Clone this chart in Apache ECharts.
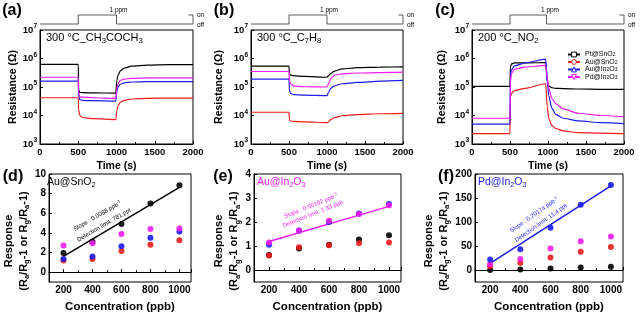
<!DOCTYPE html>
<html>
<head>
<meta charset="utf-8">
<script src="https://cdn.jsdelivr.net/npm/echarts@6/dist/echarts.min.js"></script>
<style>
  html, body { margin: 0; padding: 0; background: #fff; }
  #main { width: 640px; height: 314px; }
</style>
</head>
<body>
<div id="main"></div>
<script>
// ---- data ----
var sampleNames = ['Pt@SnO2', 'Au@SnO2', 'Au@In2O3', 'Pd@In2O3'];

// (a) 300 C acetone, resistance in ohm
var timeA = [0, 500, 505, 520, 560, 700, 990, 1005, 1020, 1050, 1100, 1200, 1400, 1700, 2000];
var ptSnO2_a = [6.2e5, 6.2e5, 8e4, 6.5e4, 6.3e4, 6.2e4, 6.1e4, 1.7e5, 2.6e5, 3.7e5, 4.6e5, 5.4e5, 5.9e5, 6.1e5, 6.1e5];
var auSnO2_a = [4.2e4, 4.2e4, 1.6e4, 1.0e4, 8.5e3, 7.8e3, 7.2e3, 1.5e4, 2.2e4, 2.9e4, 3.4e4, 3.8e4, 4.0e4, 4.1e4, 4.1e4];
var auIn2O3_a = [1.6e5, 1.6e5, 5e4, 3.6e4, 3.4e4, 3.3e4, 3.2e4, 7e4, 1.0e5, 1.25e5, 1.4e5, 1.5e5, 1.55e5, 1.55e5, 1.55e5];
var pdIn2O3_a = [2.2e5, 2.2e5, 6e4, 4.6e4, 4.4e4, 4.2e4, 4.0e4, 9e4, 1.3e5, 1.7e5, 1.9e5, 2.0e5, 2.1e5, 2.1e5, 2.1e5];

// (b) 300 C toluene
var timeB = [0, 500, 505, 520, 560, 700, 1000, 1020, 1050, 1100, 1200, 1400, 1700, 2000];
var ptSnO2_b = [5.4e5, 5.4e5, 2.8e5, 2.6e5, 2.5e5, 2.35e5, 2.2e5, 2.5e5, 3.0e5, 3.6e5, 4.3e5, 4.8e5, 5.0e5, 5.1e5];
var auSnO2_b = [1.3e4, 1.3e4, 7e3, 6.4e3, 6.2e3, 6.0e3, 5.6e3, 6.0e3, 7.3e3, 8.5e3, 9.8e3, 1.08e4, 1.15e4, 1.18e4];
var auIn2O3_b = [1.9e5, 1.9e5, 8e4, 6e4, 5.4e4, 5.2e4, 5.0e4, 6.5e4, 9e4, 1.1e5, 1.3e5, 1.45e5, 1.6e5, 1.7e5];
var pdIn2O3_b = [3.5e5, 3.5e5, 1.6e5, 1.3e5, 1.1e5, 1.02e5, 1.0e5, 1.3e5, 2.0e5, 2.6e5, 2.9e5, 3.1e5, 3.2e5, 3.3e5];

// (c) 200 C NO2
var timeC = [0, 500, 505, 520, 560, 700, 970, 990, 1010, 1050, 1100, 1200, 1400, 1700, 2000];
var ptSnO2_c = [1.05e5, 1.05e5, 5e5, 6.5e5, 7e5, 7e5, 7.2e5, 1.6e5, 1.1e5, 9.5e4, 9e4, 8.8e4, 8.5e4, 8.3e4, 8.2e4];
var auSnO2_c = [2.3e3, 2.3e3, 4.5e4, 6e4, 7.5e4, 9e4, 1.3e5, 2e4, 8e3, 4.5e3, 3.5e3, 2.9e3, 2.5e3, 2.4e3, 2.3e3];
var auIn2O3_c = [5e3, 5e3, 2.5e5, 4e5, 5.5e5, 7e5, 9.5e5, 1.5e5, 5e4, 1.8e4, 1.1e4, 8e3, 6.5e3, 5.6e3, 5.2e3];
var pdIn2O3_c = [8e3, 8e3, 1.5e5, 3e5, 4.2e5, 5e5, 5.7e5, 2e5, 9e4, 4e4, 2.6e4, 1.7e4, 1.2e4, 1e4, 9e3];

// gas pulse (on = 1, off = 0) with the on/off bracket at the right end
var pulseTimeAB = [0, 500, 500, 1000, 1000, 2000, 2000, 1940];
var pulseTimeC = [0, 500, 500, 980, 980, 2000, 2000, 1940];
var pulseLevel = [0, 0, 1, 1, 0, 0, 1, 1];

// (d)(e)(f) response vs concentration
var conc = [200, 400, 600, 800, 1000];
var fitConc = [200, 1000];
var black_d = [1.95, 3.1, 4.9, 7.0, 8.85];
var red_d = [1.2, 1.35, 2.15, 2.8, 3.25];
var blue_d = [1.35, 1.6, 2.65, 3.5, 4.15];
var magenta_d = [2.72, 2.95, 3.9, 4.4, 4.45];
var fit_d = [1.6, 8.64];

var black_e = [0.62, 0.9, 1.05, 1.27, 1.45];
var red_e = [0.6, 0.95, 1.03, 1.11, 1.15];
var blue_e = [1.05, 1.65, 2.0, 2.35, 2.75];
var magenta_e = [1.15, 1.65, 2.05, 2.33, 2.7];
var fit_e = [1.19, 2.65];

var black_f = [0, 1, 3, 5, 7];
var red_f = [8, 15, 26, 38, 48];
var magenta_f = [12, 23, 45, 60, 70];
var blue_f = [22, 43, 88, 136, 177];
var fit_f = [14, 175.5];

// ---- styling ----
var FONT = "'Liberation Sans', Arial, sans-serif";
var BLACK = '#000000', RED = '#f01c1c', BLUE = '#1c1cf0', MAGENTA = '#f01cf0';

function pairs(xs, ys) {
  return xs.map(function (x, i) { return [x, ys[i]]; });
}
function subDigits(s) {
  return s.replace(/(\d)/g, '{s|$1}');
}
function plain(v) { return String(v); }

var chart = echarts.init(document.getElementById('main'));

var grids = [
  { left: 40, top: 30, width: 153, height: 114 },   // a
  { left: 251, top: 30, width: 152, height: 114 },  // b
  { left: 472, top: 30, width: 152, height: 114 },  // c
  { left: 40, top: 15, width: 153, height: 9 },     // pulses
  { left: 251, top: 15, width: 152, height: 9 },
  { left: 472, top: 15, width: 152, height: 9 },
  { left: 44, top: 174, width: 147, height: 109 },  // d
  { left: 254, top: 174, width: 147, height: 109 }, // e
  { left: 475, top: 174, width: 148, height: 109 }  // f
];
grids.forEach(function (g, i) {
  g.show = !(i >= 3 && i <= 5);
  g.borderColor = '#000';
  g.borderWidth = 1;
  g.containLabel = false;
});

var axisCommon = {
  axisLine: { lineStyle: { color: '#000', width: 1 } },
  axisTick: { inside: true, length: 3, lineStyle: { color: '#000' } },
  splitLine: { show: false }
};

function topX(i) {
  return Object.assign({}, axisCommon, {
    gridIndex: i, type: 'value', min: 0, max: 2000, interval: 500,
    name: 'Time (s)', nameLocation: 'middle', nameGap: 17,
    nameTextStyle: { fontFamily: FONT, fontWeight: 'bold', fontSize: 10.5, color: '#000' },
    minorTick: { show: true, splitNumber: 2, length: 2, lineStyle: { color: '#000' } },
    axisLabel: { fontFamily: FONT, fontSize: 9.5, fontWeight: 'bold', color: '#000', margin: 3, formatter: plain }
  });
}
function topY(i, gap) {
  return Object.assign({}, axisCommon, {
    gridIndex: i, type: 'log', logBase: 10, min: 1e3, max: 1e7,
    name: 'Resistance (Ω)', nameLocation: 'middle', nameGap: gap,
    nameTextStyle: { fontFamily: FONT, fontWeight: 'bold', fontSize: 10.5, color: '#000' },
    axisLabel: {
      fontFamily: FONT, fontSize: 9.5, fontWeight: 'bold', color: '#000', margin: 3, lineHeight: 14,
      formatter: function (v) { return '10{p|' + Math.round(Math.log10(v)) + '}'; },
      rich: { p: { fontFamily: FONT, fontSize: 6.5, fontWeight: 'bold', lineHeight: 7, verticalAlign: 'top', color: '#000' } }
    }
  });
}
function pulseX(i) { return { gridIndex: i, type: 'value', min: 0, max: 2000, show: false }; }
function pulseY(i) { return { gridIndex: i, type: 'value', min: 0, max: 1, show: false }; }

function botX(i) {
  return Object.assign({}, axisCommon, {
    gridIndex: i, type: 'value', min: 100, max: 1080, splitNumber: 5,
    name: 'Concentration (ppb)', nameLocation: 'middle', nameGap: 19,
    nameTextStyle: { fontFamily: FONT, fontWeight: 'bold', fontSize: 11.5, color: '#000' },
    minorTick: { show: true, splitNumber: 2, length: 2, lineStyle: { color: '#000' } },
    axisLabel: { fontFamily: FONT, fontSize: 10, fontWeight: 'bold', color: '#000', margin: 3,
      showMinLabel: false, showMaxLabel: false, formatter: plain }
  });
}
function botY(i, min, max) {
  return Object.assign({}, axisCommon, {
    gridIndex: i, type: 'value', min: min, max: max, splitNumber: 5,
    name: 'Response\n(R{s|a}/R{s|g}-1 or R{s|g}/R{s|a}-1)', nameLocation: 'middle', nameGap: 12,
    nameTextStyle: {
      fontFamily: FONT, fontWeight: 'bold', fontSize: 11, color: '#000', lineHeight: 15,
      padding: [0, 26, 0, 0], // push the two-line title a bit downward, as in the figure
      rich: { s: { fontFamily: FONT, fontWeight: 'bold', fontSize: 7.5, lineHeight: 8, verticalAlign: 'bottom', color: '#000' } }
    },
    axisLabel: { fontFamily: FONT, fontSize: 10, fontWeight: 'bold', color: '#000', margin: 3, showMinLabel: false }
  });
}

var series = [];
var symbols = ['rect', 'circle', 'triangle', 'triangle'];
var rotations = [0, 0, 0, 180];
var colors = [BLACK, RED, BLUE, MAGENTA];
var topData = [
  [timeA, [ptSnO2_a, auSnO2_a, auIn2O3_a, pdIn2O3_a]],
  [timeB, [ptSnO2_b, auSnO2_b, auIn2O3_b, pdIn2O3_b]],
  [timeC, [ptSnO2_c, auSnO2_c, auIn2O3_c, pdIn2O3_c]]
];
topData.forEach(function (panel, p) {
  panel[1].forEach(function (vals, k) {
    series.push({
      type: 'line', name: sampleNames[k], xAxisIndex: p, yAxisIndex: p,
      data: pairs(panel[0], vals), showSymbol: false,
      symbol: symbols[k], symbolRotate: rotations[k], symbolSize: 5,
      smooth: 0.25, smoothMonotone: 'x',
      itemStyle: { color: colors[k], borderColor: colors[k], borderWidth: 1 },
      lineStyle: { color: colors[k], width: 1.2 },
      animation: false
    });
  });
});

[pulseTimeAB, pulseTimeAB, pulseTimeC].forEach(function (t, p) {
  series.push({
    type: 'line', xAxisIndex: 3 + p, yAxisIndex: 3 + p, data: pairs(t, pulseLevel),
    showSymbol: false, clip: false, lineStyle: { color: '#333', width: 0.8 }, animation: false,
    silent: true
  });
});

var botData = [
  [[black_d, red_d, blue_d, magenta_d], fit_d, BLACK],
  [[black_e, red_e, blue_e, magenta_e], fit_e, MAGENTA],
  [[black_f, red_f, magenta_f, blue_f], fit_f, BLUE]
];
var botColors = [
  [BLACK, RED, BLUE, MAGENTA],
  [BLACK, RED, BLUE, MAGENTA],
  [BLACK, RED, MAGENTA, BLUE]
];
botData.forEach(function (panel, p) {
  var ax = 6 + p;
  series.push({
    type: 'line', xAxisIndex: ax, yAxisIndex: ax, data: pairs(fitConc, panel[1]),
    showSymbol: false, lineStyle: { color: panel[2], width: 1.5 }, animation: false, z: 2
  });
  panel[0].forEach(function (vals, k) {
    series.push({
      type: 'scatter', name: 'pt' + p + k, xAxisIndex: ax, yAxisIndex: ax,
      data: pairs(conc, vals), symbolSize: 6,
      itemStyle: { color: botColors[p][k], opacity: 0.9 }, animation: false, z: 3
    });
  });
});

function label(x, y, text, size, opts) {
  opts = opts || {};
  var subSize = Math.round(size * 0.7 * 10) / 10;
  return {
    type: 'text', x: x, y: y, rotation: (opts.rot || 0) * Math.PI / 180, silent: true,
    style: {
      text: text, fill: opts.color || '#000', fontFamily: FONT, fontSize: size,
      fontWeight: opts.bold ? 'bold' : 'normal', lineHeight: size * 1.3,
      align: opts.align || 'left', verticalAlign: 'middle',
      rich: {
        s: { fill: opts.color || '#000', fontFamily: FONT, fontSize: subSize, lineHeight: subSize,
             verticalAlign: 'bottom', fontWeight: opts.bold ? 'bold' : 'normal' },
        p: { fill: opts.color || '#000', fontFamily: FONT, fontSize: subSize, lineHeight: subSize,
             verticalAlign: 'top', fontWeight: opts.bold ? 'bold' : 'normal' }
      }
    }
  };
}

var graphics = [
  label(12, 11, '(a)', 16, { bold: true, align: 'center' }),
  label(224, 11, '(b)', 16, { bold: true, align: 'center' }),
  label(445, 11, '(c)', 16, { bold: true, align: 'center' }),
  label(13, 177, '(d)', 16, { bold: true, align: 'center' }),
  label(223, 177, '(e)', 16, { bold: true, align: 'center' }),
  label(446, 177, '(f)', 16, { bold: true, align: 'center' }),
  label(46, 38, '300 °C_CH{s|3}COCH{s|3}', 11),
  label(257, 38, '300 °C_C{s|7}H{s|8}', 11),
  label(478, 38, '200 °C_NO{s|2}', 11),
  label(47, 182, 'Au@SnO{s|2}', 10.5),
  label(257, 182, 'Au@In{s|2}O{s|3}', 10.5, { color: MAGENTA }),
  label(478, 182, 'Pd@In{s|2}O{s|3}', 10.5, { color: BLUE }),
  label(97.5, 216, 'Slope : 0.0088 ppb{p|-1}', 6, { align: 'center', rot: 30 }),
  label(104, 225, 'Detection limit: 781 ppt', 6, { align: 'center', rot: 30 }),
  label(311, 206, 'Slope : 0.00182 ppb{p|-1}', 6, { align: 'center', rot: 22, color: MAGENTA }),
  label(313, 214, 'Detection limit: 1.33 ppb', 6, { align: 'center', rot: 22, color: MAGENTA }),
  label(534, 215, 'Slope : 0.20174 ppb{p|-1}', 6, { align: 'center', rot: 35, color: BLUE }),
  label(541, 223, 'Detection limit: 11.4 ppt', 6, { align: 'center', rot: 35, color: BLUE })
];
[[40, 193], [251, 403], [472, 624]].forEach(function (g) {
  graphics.push(label((g[0] + g[1]) / 2 + 2, 10, '1 ppm', 6.5, { align: 'center' }));
  graphics.push(label(g[1] + 4, 15, 'on', 6.5));
  graphics.push(label(g[1] + 4, 25, 'off', 6.5));
});

chart.setOption({
  backgroundColor: '#fff',
  animation: false,
  textStyle: { fontFamily: FONT },
  grid: grids,
  xAxis: [topX(0), topX(1), topX(2), pulseX(3), pulseX(4), pulseX(5), botX(6), botX(7), botX(8)],
  yAxis: [topY(0, 21), topY(1, 26), topY(2, 24), pulseY(3), pulseY(4), pulseY(5),
          botY(6, -1, 10), botY(7, -0.5, 4), botY(8, -25, 200)],
  legend: {
    data: sampleNames, orient: 'vertical', left: 562, top: 46,
    itemWidth: 12, itemHeight: 6, itemGap: 0.5, selectedMode: false,
    formatter: subDigits,
    itemStyle: { color: '#fff', borderColor: 'inherit', borderWidth: 1 },
    textStyle: {
      fontFamily: FONT, fontSize: 7, color: '#000', lineHeight: 6,
      rich: { s: { fontFamily: FONT, fontSize: 5, lineHeight: 5, verticalAlign: 'bottom', color: '#000' } }
    }
  },
  graphic: graphics,
  series: series
});
</script>
</body>
</html>
